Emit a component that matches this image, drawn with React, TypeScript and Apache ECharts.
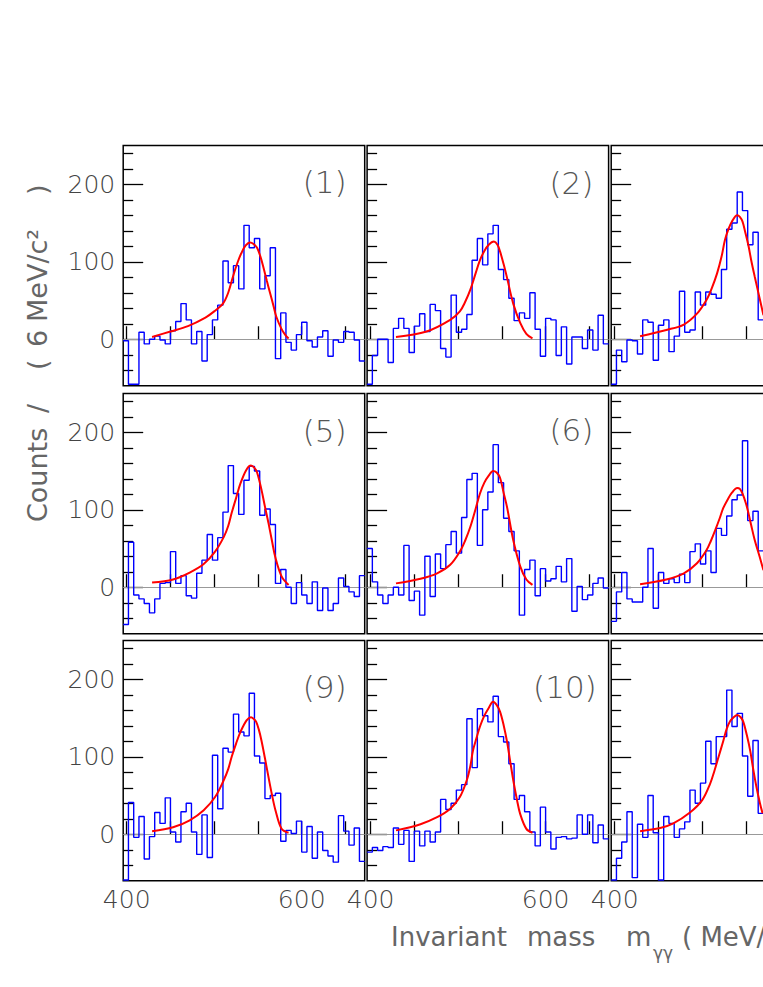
import React, { useEffect, useRef } from "react";
import * as echarts from "echarts";

// Histogram binning (MeV)
const BIN_START = 396;
const BIN_WIDTH = 6;
const X_MIN = 396;
const X_MAX = 672;
const Y_MIN = -60;
const Y_MAX = 250;

const X_TICKS = [400, 450, 500, 550, 600, 650];
const X_LABELS = [400, 600];
const Y_MAJOR = [0, 100, 200];
const Y_MINOR = [-40, -20, 20, 40, 60, 80, 120, 140, 160, 180, 220, 240];

// Bin contents per panel (counts / 6 MeV)
const hist1 = [-2, -58, -58, 9, -6, 0, 4, -1, -6, 11, 23, 46, 25, -6, 10, -28, 6, 25, 44, 101, 73, 95, 65, 147, 118, 130, 65, 82, 118, -25, 34, -4, -14, 6, 22, -2, -10, 3, 11, -22, -1, -4, 10, 9, -1, -28];
const hist2 = [-58, -21, 0, 0, -30, 14, 27, 14, -17, 17, 33, 10, 45, 37, -12, -23, 57, 9, 13, 32, 102, 130, 96, 136, 147, 90, 77, 53, 24, 34, 27, 60, 13, -22, 27, 25, -21, 16, -32, 3, 3, -12, 12, -14, 31, -6];
const hist3 = [-58, -14, -29, -1, -2, -19, 25, 22, -27, 18, 25, -16, 4, 62, 9, 12, 61, 44, 61, 58, 53, 90, 142, 150, 190, 166, 122, 138, 25];
const hist5 = [-48, 58, -10, -15, -21, -33, -15, 5, 6, 46, 5, 15, -11, -14, 18, 35, 68, 35, 64, 97, 157, 121, 94, 138, 156, 150, 93, 101, 81, 5, 23, 0, -21, 6, -10, -21, 7, -30, -1, -30, -21, 12, 1, -6, -12, 15];
const hist6 = [50, 7, -10, -21, -10, 0, -10, 54, -17, -5, -36, 40, -12, 43, 24, 55, 72, 44, 90, 139, 147, 54, 100, 123, 184, 135, 89, 72, 47, -36, 23, 35, -11, 24, 8, 11, 27, 7, 37, -31, 1, -16, -10, 5, 12, -1];
const hist7 = [-44, -6, 19, -15, -19, -19, 0, 50, -27, 19, 5, 11, 6, 17, 6, 46, 56, 30, 47, 19, 76, 67, 92, 113, 119, 189, 86, 98, 47];
const hist9 = [-59, 41, -4, 23, -32, -3, 28, 14, 47, 3, -10, 29, 40, 3, -26, 25, -30, 102, 33, 111, 106, 155, 132, 127, 182, 101, 92, 46, 50, 53, -9, 5, 1, 17, -23, 10, -31, 3, -21, -28, -36, 24, 4, -14, 8, -35];
const hist10 = [-23, -17, -21, -16, -17, 8, -13, 5, -35, 4, -15, 4, -10, 3, 45, 32, 40, 57, 64, 149, 86, 162, 153, 145, 178, 126, 119, 91, 45, 50, 29, 3, -15, 35, 3, -19, -4, -3, -6, -5, 25, 0, 25, -11, 12, -6];
const hist11 = [-59, -31, -10, 29, -56, 13, -4, 50, 2, -59, 23, 14, -4, 7, 16, 57, 40, 66, 120, 91, 126, 126, 186, 139, 156, 101, 49, 121, 27];

// Fit curves, sampled from the figure: [mass, counts]
const fit1 = [[429, 3], [450, 10], [470, 17], [490, 28], [500, 36], [510, 46], [516, 60], [522, 83], [527, 100], [531, 111], [536, 121], [541, 125], [545, 123], [549, 118], [553, 106], [556, 94], [560, 76], [564, 59], [568, 42], [571, 29], [577, 13], [581, 6], [585, 1]];
const fit2 = [[429, 3], [464, 10], [491, 25], [502, 36], [508, 48], [514, 64], [520, 85], [525, 102], [530, 114], [535, 122], [541, 126], [545, 122], [548, 113], [552, 97], [556, 79], [563, 46], [571, 21], [578, 7], [585, 1]];
const fit3 = [[429, 4], [459, 12], [479, 19], [494, 33], [505, 51], [511, 66], [517, 85], [522, 106], [526, 128], [530, 142], [534, 152], [540, 160], [543, 158], [546, 152], [549, 139], [553, 120], [556, 102], [560, 81], [566, 51], [570, 31]];
const fit5 = [[429, 6], [453, 10], [472, 19], [488, 30], [501, 46], [511, 65], [516, 79], [520, 96], [525, 115], [530, 134], [537, 152], [542, 157], [546, 154], [549, 148], [554, 126], [558, 104], [562, 83], [566, 60], [570, 38], [577, 14], [585, 3]];
const fit6 = [[429, 5], [457, 11], [476, 18], [491, 29], [502, 46], [508, 60], [514, 78], [520, 101], [525, 121], [530, 135], [535, 144], [540, 150], [544, 148], [548, 141], [552, 122], [556, 103], [563, 61], [571, 27], [578, 10], [585, 3]];
const fit7 = [[429, 4], [459, 10], [479, 18], [494, 31], [505, 48], [510, 60], [515, 74], [520, 89], [524, 102], [529, 113], [534, 122], [540, 128], [543, 127], [546, 121], [550, 108], [553, 95], [556, 80], [560, 61], [566, 38], [570, 22]];
const fit9 = [[429, 4], [453, 9], [472, 18], [488, 31], [501, 48], [511, 70], [516, 84], [520, 100], [525, 117], [530, 132], [537, 147], [542, 151], [545, 149], [548, 145], [551, 135], [554, 121], [558, 98], [562, 74], [566, 51], [570, 31], [577, 7], [585, 2]];
const fit10 = [[429, 5], [457, 13], [476, 22], [491, 33], [502, 48], [510, 70], [514, 88], [517, 108], [521, 124], [525, 139], [530, 153], [535, 163], [540, 171], [544, 167], [548, 158], [552, 141], [556, 119], [559, 98], [563, 70], [567, 46], [571, 26], [578, 7], [585, 2]];
const fit11 = [[429, 4], [452, 8], [467, 14], [486, 28], [500, 44], [509, 65], [514, 82], [519, 101], [524, 120], [528, 136], [532, 146], [536, 151], [540, 154], [544, 151], [547, 145], [551, 128], [555, 107], [558, 86], [562, 61], [566, 40], [569, 27]];

const PANEL_LABELS = ["(1)", "(2)", "(3)", "(5)", "(6)", "(7)", "(9)", "(10)", "(11)"];
const PANEL_HISTS = [hist1, hist2, hist3, hist5, hist6, hist7, hist9, hist10, hist11];
const PANEL_FITS = [fit1, fit2, fit3, fit5, fit6, fit7, fit9, fit10, fit11];

// Layout (pixels)
const COL_LEFT = [123.2, 367.1, 611.2];
const ROW_TOP = [145.5, 393.5, 640.5];
const GRID_W = 241.5;
const GRID_H = 240.25;
const LABEL_POS = [
  [346.7, 182], [593.3, 183], null,
  [346.7, 431], [593.3, 430], null,
  [346.7, 687], [596.7, 687], null,
];

const FONT = "'DejaVu Sans', sans-serif";
const TEXT_COLOR = "#444";
const TITLE_COLOR = "#666";

function histPoints(values: number[]) {
  const pts: number[][] = values.map((v, i) => [BIN_START + i * BIN_WIDTH, v]);
  const n = values.length;
  pts.push([BIN_START + n * BIN_WIDTH, values[n - 1]]);
  return pts;
}

export default function App() {
  const ref = useRef<HTMLDivElement>(null);

  useEffect(() => {
    if (!ref.current) return;
    const chart = echarts.init(ref.current, undefined, { renderer: "svg" });

    const grids: any[] = [];
    const xAxes: any[] = [];
    const yAxes: any[] = [];
    const series: any[] = [];

    for (let p = 0; p < 9; p++) {
      const row = Math.floor(p / 3);
      const col = p % 3;
      grids.push({
        left: COL_LEFT[col],
        top: ROW_TOP[row],
        width: GRID_W,
        height: GRID_H,
        show: true,
        borderColor: "#000",
        borderWidth: 1.5,
        backgroundColor: "transparent",
        containLabel: false,
      });
      xAxes.push({
        gridIndex: p,
        type: "value",
        min: X_MIN,
        max: X_MAX,
        axisLine: { show: false },
        splitLine: { show: false },
        axisTick: {
          show: true,
          inside: true,
          length: 13,
          customValues: X_TICKS,
          lineStyle: { color: "#000", width: 1.3 },
        },
        axisLabel: {
          show: row === 2,
          customValues: col === 2 ? [400] : X_LABELS,
          margin: 6,
          fontSize: 25,
          fontWeight: 200,
          fontFamily: FONT,
          color: TEXT_COLOR,
        },
      });
      yAxes.push({
        gridIndex: p,
        type: "value",
        position: "left",
        min: Y_MIN,
        max: Y_MAX,
        axisLine: { show: false },
        splitLine: { show: false },
        axisTick: {
          show: true,
          inside: true,
          length: 20,
          customValues: Y_MAJOR,
          lineStyle: { color: "#000", width: 1.3 },
        },
        axisLabel: {
          show: col === 0,
          customValues: Y_MAJOR,
          margin: 8,
          fontSize: 25,
          fontWeight: 200,
          fontFamily: FONT,
          color: TEXT_COLOR,
        },
      });
      yAxes.push({
        gridIndex: p,
        type: "value",
        position: "left",
        min: Y_MIN,
        max: Y_MAX,
        axisLine: { show: false },
        splitLine: { show: false },
        axisTick: {
          show: true,
          inside: true,
          length: 10,
          customValues: Y_MINOR,
          lineStyle: { color: "#000", width: 1.3 },
        },
        axisLabel: { show: false },
      });

      series.push({
        type: "line",
        xAxisIndex: p,
        yAxisIndex: 2 * p,
        data: histPoints(PANEL_HISTS[p]),
        step: "end",
        symbol: "none",
        lineStyle: { color: "#0000ff", width: 1.4 },
        z: 3,
        markLine: {
          silent: true,
          symbol: ["none", "none"],
          label: { show: false },
          lineStyle: { color: "#999", width: 1, type: "solid" },
          data: [{ yAxis: 0 }],
          z: 1,
        },
      });
      series.push({
        type: "line",
        xAxisIndex: p,
        yAxisIndex: 2 * p,
        data: PANEL_FITS[p],
        smooth: 0.35,
        symbol: "none",
        lineStyle: { color: "#ff0000", width: 2 },
        z: 4,
      });
    }

    const graphics: any[] = [];
    PANEL_LABELS.forEach((lab, i) => {
      const pos = LABEL_POS[i];
      if (!pos) return;
      graphics.push({
        type: "text",
        x: pos[0],
        y: pos[1],
        style: {
          text: lab,
          fontSize: 31,
          fontWeight: 200,
          fontFamily: FONT,
          fill: "#555",
          align: "right",
          verticalAlign: "middle",
        },
      });
    });

    // Y axis title, rotated, pieces placed along the axis
    const yTitle: [string, number][] = [
      ["Counts", 522],
      ["/", 413],
      ["(", 370],
      ["6", 347],
      ["MeV/c²", 322],
      [")", 195],
    ];
    yTitle.forEach(([t, y]) => {
      graphics.push({
        type: "text",
        x: 37,
        y,
        rotation: Math.PI / 2,
        style: {
          text: t,
          fontSize: 27,
          fontFamily: FONT,
          fill: TITLE_COLOR,
          align: "left",
          verticalAlign: "middle",
        },
      });
    });

    // X axis title
    const xTitle: [string, number][] = [
      ["Invariant", 391],
      ["mass", 527],
      ["m", 626],
      ["( MeV/c² )", 682],
    ];
    xTitle.forEach(([t, x]) => {
      graphics.push({
        type: "text",
        x,
        y: 937,
        style: {
          text: t,
          fontSize: 26,
          fontFamily: FONT,
          fill: TITLE_COLOR,
          align: "left",
          verticalAlign: "middle",
        },
      });
    });
    graphics.push({
      type: "text",
      x: 653,
      y: 953,
      style: {
        text: "γγ",
        fontSize: 17,
        fontFamily: FONT,
        fill: TITLE_COLOR,
        align: "left",
        verticalAlign: "middle",
      },
    });

    chart.setOption({
      animation: false,
      backgroundColor: "#fff",
      grid: grids,
      xAxis: xAxes,
      yAxis: yAxes,
      series,
      graphic: graphics,
    });

    return () => chart.dispose();
  }, []);

  return (
    <div
      style={{
        position: "absolute",
        left: 0,
        top: 0,
        width: 763,
        height: 987,
        overflow: "hidden",
        background: "#fff",
      }}
    >
      <div ref={ref} style={{ width: 870, height: 987 }} />
    </div>
  );
}
